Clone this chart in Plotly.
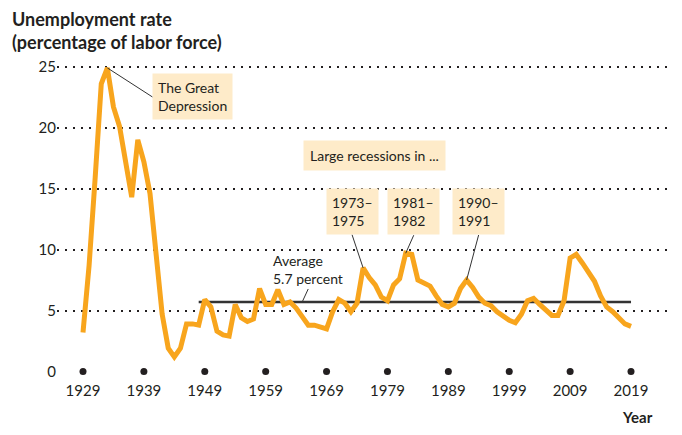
import plotly.graph_objects as go

years = list(range(1929, 2020))
rate = [3.2, 8.7, 15.9, 23.6, 24.9, 21.7, 20.1, 16.9, 14.3, 19.0,
        17.2, 14.6, 9.9, 4.7, 1.9, 1.2, 1.9, 3.9, 3.9, 3.8,
        5.9, 5.3, 3.3, 3.0, 2.9, 5.5, 4.4, 4.1, 4.3, 6.8,
        5.5, 5.5, 6.7, 5.5, 5.7, 5.2, 4.5, 3.8, 3.8, 3.6,
        3.5, 4.9, 5.9, 5.6, 4.9, 5.6, 8.5, 7.7, 7.1, 6.1,
        5.8, 7.1, 7.6, 9.7, 9.6, 7.5, 7.2, 7.0, 6.2, 5.5,
        5.3, 5.6, 6.8, 7.5, 6.9, 6.1, 5.6, 5.4, 4.9, 4.5,
        4.2, 4.0, 4.7, 5.8, 6.0, 5.5, 5.1, 4.6, 4.6, 5.8,
        9.3, 9.6, 8.9, 8.1, 7.4, 6.2, 5.3, 4.9, 4.4, 3.9, 3.7]
avg_years = [1948, 2019]
avg_value = 5.7
decades = list(range(1929, 2020, 10))
y_ticks = [5, 10, 15, 20, 25]

FONT = "Lato"
TXT = "#231F20"
ORANGE = "#F8A51D"
BOX = "#FEEBC9"

def val(yr):
    return rate[years.index(yr)]

fig = go.Figure()
fig.add_trace(go.Scatter(x=avg_years, y=[avg_value] * len(avg_years), mode="lines",
                         line=dict(color="#333333", width=2.5), hoverinfo="skip"))
fig.add_trace(go.Scatter(x=years, y=rate, mode="lines",
                         line=dict(color=ORANGE, width=5), hoverinfo="skip"))
fig.add_trace(go.Scatter(x=decades, y=[0] * len(decades), mode="markers",
                         marker=dict(color="#231F20", size=7), hoverinfo="skip"))
fig.add_trace(go.Scatter(x=[years[0]], y=[0], mode="markers", yaxis="y2",
                         marker=dict(opacity=0), hoverinfo="skip"))

ann = []
ann.append(dict(x=-47 / 615, y=(380 - 6) / 325, xref="paper", yref="paper",
                text="<b>Unemployment rate<br>(percentage of labor force)</b>",
                showarrow=False, xanchor="left", yanchor="top", align="left",
                font=dict(family=FONT, size=18, color=TXT)))
ann.append(dict(x=1933, y=val(1933), xref="x", yref="y", text="The Great<br>Depression",
                showarrow=True, arrowhead=0, arrowwidth=1, arrowcolor="#333333",
                ax=45, ay=29, xanchor="left", yanchor="middle", align="left",
                bgcolor=BOX, borderpad=5, font=dict(family=FONT, size=14, color=TXT)))
for yr, lbl, ax, ay in [(1975, "1973–<br>1975", -11, -33),
                        (1982, "1981–<br>1982", 8, -18),
                        (1992, "1990–<br>1991", 12, -45)]:
    ann.append(dict(x=yr, y=val(yr), xref="x", yref="y", text=lbl,
                    showarrow=True, arrowhead=0, arrowwidth=1, arrowcolor="#333333",
                    ax=ax, ay=ay, xanchor="center", yanchor="bottom", align="left",
                    bgcolor=BOX, borderpad=5, font=dict(family=FONT, size=14, color=TXT)))
ann.append(dict(x=1976.9, y=17.68, xref="x", yref="y", text="Large recessions in ...",
                showarrow=False, bgcolor=BOX, borderpad=6,
                font=dict(family=FONT, size=14, color=TXT)))
ann.append(dict(x=1965, y=avg_value, xref="x", yref="y", text="Average<br>5.7 percent",
                showarrow=True, arrowhead=0, arrowwidth=1, arrowcolor="#333333",
                ax=6, ay=-13, xanchor="center", yanchor="bottom", align="left",
                font=dict(family=FONT, size=14, color=TXT)))
ann.append(dict(x=0.972, y=-0.114, xref="paper", yref="paper", text="<b>Year</b>",
                showarrow=False, xanchor="right", yanchor="middle",
                font=dict(family=FONT, size=15, color=TXT)))

fig.update_layout(
    width=682, height=435,
    margin=dict(l=57, r=10, t=55, b=55),
    paper_bgcolor="white", plot_bgcolor="white",
    showlegend=False,
    font=dict(family=FONT, color=TXT),
    xaxis=dict(range=[1924.73, 2025.73], tickvals=decades, showgrid=False,
               zeroline=False, showline=False, ticks="",
               tickfont=dict(family=FONT, size=15, color=TXT)),
    yaxis=dict(range=[-0.70, 25.96], tickvals=y_ticks, showgrid=True,
               gridcolor="#231F20", gridwidth=1.5, griddash="1.5px,6.5px",
               zeroline=False, showline=False, ticks="",
               tickfont=dict(family=FONT, size=15, color=TXT)),
    yaxis2=dict(range=[-0.70, 25.96], tickvals=[0], overlaying="y", side="left",
                showgrid=False, zeroline=False, showline=False, ticks="",
                tickfont=dict(family=FONT, size=15, color=TXT)),
    annotations=ann,
)

fig.write_html("out.html")
